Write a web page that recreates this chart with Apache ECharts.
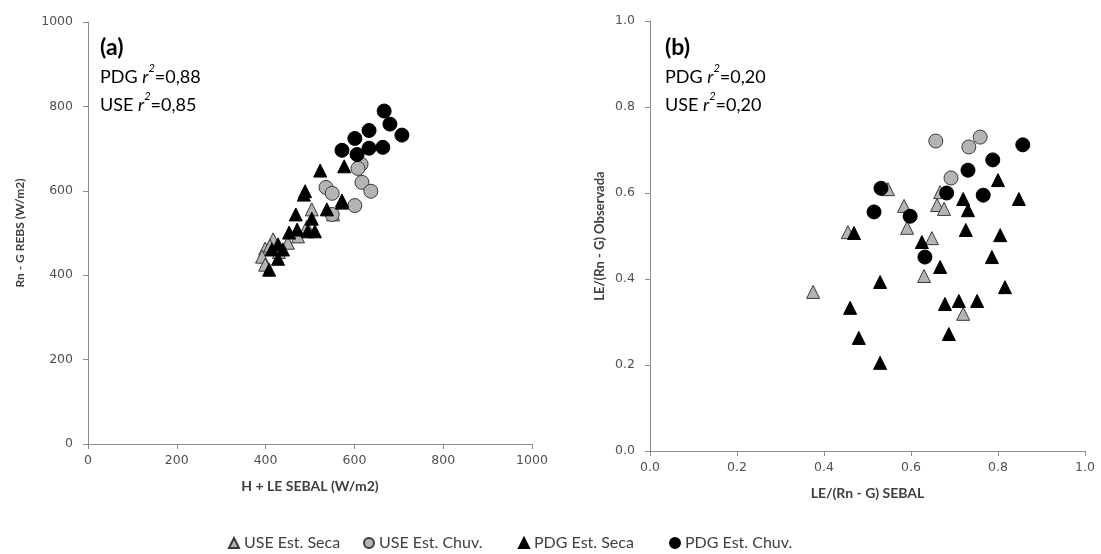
<!DOCTYPE html>
<html><head><meta charset="utf-8">
<script src="https://cdn.jsdelivr.net/npm/echarts@6/dist/echarts.min.js"></script>
<style>html,body{margin:0;padding:0;background:#fff}#c{width:1101px;height:554px}</style>
</head><body><div id="c"></div>
<script>
// Panel (a): H + LE SEBAL vs Rn - G REBS
const aUseSeca = [[504,556],[493,515],[473,492],[399,463],[417,485],[392,444],[399,425],[450,477],[552,544],[410,470],[430,455]];
const aUseChuv = [[615,663],[608,653],[617,620],[637,599],[536,608],[550,594],[601,565],[550,544]];
const aPdgSeca = [[523,648],[577,658],[489,599],[572,577],[486,591],[572,572],[538,556],[468,544],[504,534],[453,501],[471,508],[511,504],[495,504],[428,473],[414,461],[439,461],[428,439],[408,413]];
const aPdgChuv = [[667,789],[680,758],[707,732],[633,743],[601,724],[664,703],[633,701],[572,696],[606,686]];
// Panel (b): LE/(Rn-G) SEBAL vs LE/(Rn-G) Observada
const bUseSeca = [[0.547,0.609],[0.667,0.602],[0.584,0.570],[0.660,0.572],[0.676,0.563],[0.591,0.519],[0.455,0.509],[0.648,0.495],[0.630,0.407],[0.375,0.370],[0.720,0.319]];
const bUseChuv = [[0.657,0.721],[0.759,0.730],[0.733,0.707],[0.692,0.635]];
const bPdgSeca = [[0.469,0.507],[0.800,0.630],[0.720,0.586],[0.848,0.586],[0.731,0.560],[0.726,0.514],[0.805,0.502],[0.625,0.486],[0.667,0.428],[0.786,0.451],[0.529,0.393],[0.816,0.381],[0.460,0.333],[0.678,0.342],[0.710,0.349],[0.752,0.349],[0.480,0.263],[0.687,0.272],[0.529,0.205]];
const bPdgChuv = [[0.857,0.712],[0.788,0.677],[0.731,0.653],[0.766,0.595],[0.682,0.600],[0.531,0.611],[0.515,0.556],[0.598,0.546],[0.632,0.451]];
const names = ['USE Est. Seca','USE Est. Chuv.','PDG Est. Seca','PDG Est. Chuv.'];
const xTitleA = 'H + LE SEBAL (W/m2)', yTitleA = 'Rn - G REBS (W/m2)';
const xTitleB = 'LE/(Rn - G) SEBAL', yTitleB = 'LE/(Rn - G) Observada';
const statsA = ['(a)','0,88','0,85'], statsB = ['(b)','0,20','0,20'];

const styles = [
  {symbol:'triangle', symbolSize:13, itemStyle:{color:'#b4b4b4', borderColor:'#3a3a3a', borderWidth:1, opacity:1}},
  {symbol:'circle', symbolSize:14, itemStyle:{color:'#b4b4b4', borderColor:'#3a3a3a', borderWidth:1, opacity:1}},
  {symbol:'triangle', symbolSize:13, itemStyle:{color:'#000', borderColor:'#000', borderWidth:1, opacity:1}},
  {symbol:'circle', symbolSize:14, itemStyle:{color:'#000', borderColor:'#000', borderWidth:1, opacity:1}}
];
const dataA = [aUseSeca,aUseChuv,aPdgSeca,aPdgChuv];
const dataB = [bUseSeca,bUseChuv,bPdgSeca,bPdgChuv];
const series = [];
[dataA,dataB].forEach((set,gi)=>{
  set.forEach((d,i)=>{
    series.push(Object.assign({type:'scatter', name:names[i], xAxisIndex:gi, yAxisIndex:gi, data:d, z:2+i, emphasis:{disabled:true}}, styles[i]));
  });
});
const axisBase = {
  axisLine:{show:true, onZero:false, lineStyle:{color:'#8c8c8c', width:1}},
  axisTick:{show:true, length:5, lineStyle:{color:'#8c8c8c'}},
  splitLine:{show:false},
  axisLabel:{color:'#505050', fontFamily:'DejaVu Sans', fontSize:12.5},
  nameTextStyle:{color:'#404040', fontFamily:'Lato', fontWeight:'bold'},
  nameLocation:'middle'
};
function ax(o){ return Object.assign({}, JSON.parse(JSON.stringify(axisBase)), o, {axisLabel:Object.assign({}, axisBase.axisLabel, o.axisLabel||{}), nameTextStyle:Object.assign({}, axisBase.nameTextStyle, o.nameTextStyle||{})}); }
const fmt1 = v => v.toFixed(1);
const fmt0 = v => String(Math.round(v));
function statText(s){
  return '{b|'+s[0]+'}\n{n|PDG }{i|r}{s|2}{n|='+s[1]+'}\n{n|USE }{i|r}{s|2}{n|='+s[2]+'}';
}
const rich = {
  b:{fontFamily:'Lato', fontWeight:'bold', fontSize:23, color:'#000', lineHeight:30},
  n:{fontFamily:'Lato', fontWeight:'normal', fontSize:18, color:'#000', lineHeight:28},
  i:{fontFamily:'Lato', fontWeight:'normal', fontStyle:'italic', fontSize:18, color:'#000', lineHeight:28},
  s:{fontFamily:'Lato', fontWeight:'normal', fontStyle:'italic', fontSize:11, color:'#000', lineHeight:28, verticalAlign:'top', padding:[0,0,10,0]}
};
const legends = names.map((n,i)=>({
  data:[n], left:[223,358,513,664][i], top:530, itemWidth:10, itemHeight:10,
  textStyle:{fontFamily:'Lato', fontSize:16, color:'#404040'}, itemGap:5, selectedMode:true
}));
const chart = echarts.init(document.getElementById('c'));
chart.setOption({
  animation:false,
  backgroundColor:'#fff',
  title:[
    {text:statText(statsA), left:95, top:28, textStyle:{fontWeight:'normal', rich:rich}},
    {text:statText(statsB), left:660, top:28, textStyle:{fontWeight:'normal', rich:rich}}
  ],
  legend:legends,
  grid:[
    {left:88, right:569, top:22, bottom:110},
    {left:650, right:16, top:21, bottom:103}
  ],
  xAxis:[
    ax({gridIndex:0, type:'value', min:0, max:1000, interval:200, name:xTitleA, nameGap:35, nameTextStyle:{fontSize:14}, axisLabel:{margin:10, formatter:fmt0}}),
    ax({gridIndex:1, type:'value', min:0, max:1, interval:0.2, name:xTitleB, nameGap:35, nameTextStyle:{fontSize:14}, axisLabel:{margin:10, formatter:fmt1}})
  ],
  yAxis:[
    ax({gridIndex:0, type:'value', min:0, max:1000, interval:200, name:yTitleA, nameGap:62, nameTextStyle:{fontSize:12}, axisLabel:{margin:15, formatter:fmt0}}),
    ax({gridIndex:1, type:'value', min:0, max:1, interval:0.2, name:yTitleB, nameGap:44, nameTextStyle:{fontSize:13}, axisLabel:{margin:15, formatter:fmt1}})
  ],
  series:series
});
</script></body></html>
